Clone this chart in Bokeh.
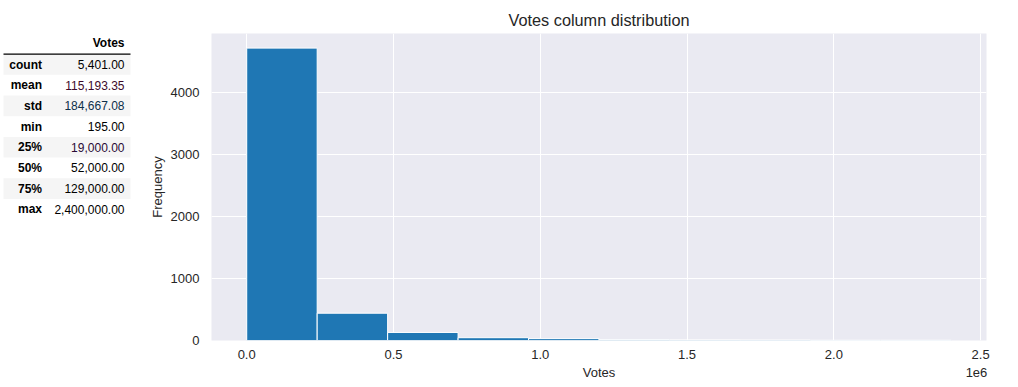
import numpy as np
from bokeh.plotting import figure
from bokeh.layouts import row
from bokeh.models import (ColumnDataSource, Range1d, FixedTicker, LinearAxis,
                          CustomJSTickFormatter)
from bokeh.core.properties import value
from bokeh.embed import file_html
from bokeh.resources import INLINE

# ---------------- data ----------------
stat_names = ["count", "mean", "std", "min", "25%", "50%", "75%", "max"]
stat_values = [5401.00, 115193.35, 184667.08, 195.00, 19000.00, 52000.00, 129000.00, 2400000.00]
stat_colors = ["#000000", "#3d0a2a", "#0d2f4a", "#000000", "#2a0a35", "#000000", "#000000", "#000000"]
column_name = "Votes"

hist_counts = [4715, 440, 130, 45, 30, 15, 10, 8, 4, 4]
vote_min = 195.0
vote_max = 2400000.0
x_ticks = [0, 500000, 1000000, 1500000, 2000000, 2500000]
y_ticks = [0, 1000, 2000, 3000, 4000]
x_axis_title = "Votes"
x_offset_text = "1e6"

FONT = "Liberation Sans"
TXT = "#262626"

# ---------------- table figure ----------------
TW, H = 143, 386
tp = figure(width=TW, height=H, x_range=Range1d(0, TW), y_range=Range1d(H, 0),
            output_backend="svg", toolbar_location=None, min_border=0)
tp.axis.visible = False
tp.grid.visible = False
tp.outline_line_color = None
tp.background_fill_color = "white"
tp.border_fill_color = "white"

row_h = 26.0
row_top0 = 26.0
table_left = 3
label_right = 41.5
value_right = 124
table_right = 130
n = len(stat_names)
idx = np.arange(n)
tops = row_top0 + idx * row_h
centers = tops + row_h / 2

stripe = idx % 2 == 0
tp.quad(left=table_left, right=table_right, top=tops[stripe], bottom=tops[stripe] + row_h,
        fill_color="#f5f5f5", line_color=None)
tp.segment(x0=[table_left], y0=[row_top0], x1=[table_right], y1=[row_top0],
           line_color="black", line_width=1.2)

fmt_vals = [f"{v:,.2f}" for v in stat_values]
src = ColumnDataSource(dict(x_l=[label_right] * n, x_v=[value_right] * n, y=centers,
                            lab=stat_names, val=fmt_vals, col=stat_colors))
tp.text(x="x_l", y="y", text="lab", source=src, text_font=value(FONT),
        text_font_style="bold", text_font_size="12px", text_align="right",
        text_baseline="middle", text_color="black")
tp.text(x="x_v", y="y", text="val", source=src, text_font=value(FONT),
        text_font_size="12px", text_align="right", text_baseline="middle",
        text_color="col")
tp.text(x=[value_right], y=[12.5], text=[column_name], text_font=value(FONT),
        text_font_style="bold", text_font_size="12px", text_align="right",
        text_baseline="middle", text_color="black")

# ---------------- histogram ----------------
edges = np.linspace(vote_min, vote_max, len(hist_counts) + 1)
span = edges[-1] - edges[0]
x_lo, x_hi = edges[0] - 0.05 * span, edges[-1] + 0.05 * span
y_hi = 1.05 * max(hist_counts)

HW = 874
BL, BR = 68, 31
frame_w = HW - BL - BR

p = figure(width=HW, height=H, x_range=Range1d(x_lo, x_hi), y_range=Range1d(0, y_hi),
           output_backend="svg", toolbar_location=None,
           title="Votes column distribution",
           min_border_left=BL, min_border_right=BR, min_border_top=33, min_border_bottom=46)
p.title.align = "center"
p.title.text_font = FONT
p.title.text_font_size = "16.3px"
p.title.text_font_style = "normal"
p.title.text_color = TXT
p.title.standoff = 9

p.background_fill_color = "#EAEAF2"
p.border_fill_color = "white"
p.outline_line_color = None

p.quad(left=edges[:-1], right=edges[1:], bottom=0, top=hist_counts,
       fill_color="#1f77b4", line_color="white", line_width=1)

# second axis carrying the axis title and the "1e6" offset text on one line
px_to_data = (x_hi - x_lo) / frame_w
mid_x = (x_lo + x_hi) / 2
off_x = x_hi - 10 * px_to_data
ax2 = LinearAxis(ticker=FixedTicker(ticks=[mid_x, off_x]),
                 formatter=CustomJSTickFormatter(
                     args=dict(t=x_axis_title, o=x_offset_text, m=mid_x),
                     code="return tick > m ? o : t;"))
p.add_layout(ax2, "below")

p.xaxis[0].ticker = FixedTicker(ticks=x_ticks)
p.xaxis[0].formatter = CustomJSTickFormatter(code="return (tick/1e6).toFixed(1);")
p.yaxis.ticker = FixedTicker(ticks=y_ticks)
for ax in list(p.xaxis) + list(p.yaxis):
    ax.axis_line_color = None
    ax.major_tick_line_color = None
    ax.minor_tick_line_color = None
    ax.major_tick_out = 0
    ax.major_tick_in = 0
    ax.major_label_text_font = FONT
    ax.major_label_text_font_size = "13px"
    ax.major_label_text_color = TXT
    ax.axis_label_text_font = FONT
    ax.axis_label_text_font_size = "13px"
    ax.axis_label_text_font_style = "normal"
    ax.axis_label_text_color = TXT
p.yaxis.axis_label = "Frequency"
p.xaxis[0].major_label_standoff = 9
ax2.major_label_standoff = 3
p.yaxis.major_label_standoff = 12
p.yaxis.axis_label_standoff = 3

p.xgrid.grid_line_color = "white"
p.ygrid.grid_line_color = "white"
p.xgrid.grid_line_width = 1
p.ygrid.grid_line_width = 1
p.xgrid.ticker = FixedTicker(ticks=x_ticks)

layout = row(tp, p)
open("out.html", "w").write(file_html(layout, INLINE))
